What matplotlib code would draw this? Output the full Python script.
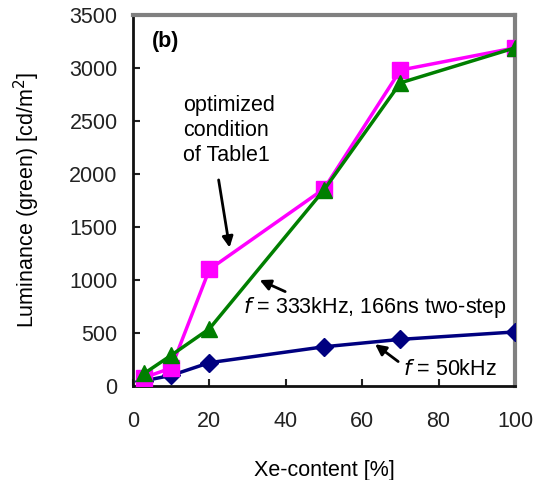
import matplotlib.pyplot as plt

plt.rcParams['font.family'] = ['Liberation Sans', 'DejaVu Sans']

# Xe-content [%] and luminance values for the three drive conditions
xe = [3, 10, 20, 50, 70, 100]
lum_50khz = [50, 100, 220, 370, 440, 510]
lum_optimized = [80, 170, 1100, 1860, 2980, 3190]
lum_333khz = [120, 290, 540, 1850, 2860, 3190]

FS = 15.5

fig = plt.figure(figsize=(5.41, 4.80), dpi=100)
ax = fig.add_axes([133 / 541, 94 / 480, 382 / 541, 371 / 480])

ax.plot(xe, lum_50khz, color='#000080', lw=2.5, marker='D', ms=9, zorder=3)
ax.plot(xe, lum_optimized, color='#ff00ff', lw=2.5, marker='s', ms=11, zorder=4)
ax.plot(xe, lum_333khz, color='#007f00', lw=2.5, marker='^', ms=11, zorder=5)

ax.set_xlim(0, 100)
ax.set_ylim(0, 3500)
ax.set_xticks(range(0, 101, 20))
ax.set_yticks(range(0, 3501, 500))
ax.tick_params(direction='in', length=5, width=1.5, labelsize=FS,
               colors='#222222')
ax.tick_params(axis='y', pad=11)
ax.tick_params(axis='x', pad=18)

for side in ['left', 'bottom']:
    ax.spines[side].set_linewidth(2)
    ax.spines[side].set_color('#111111')
for side in ['top', 'right']:
    ax.spines[side].set_linewidth(3)
    ax.spines[side].set_color('#808080')

ax.set_xlabel('Xe-content [%]', fontsize=FS, labelpad=20)
ax.set_ylabel('Luminance (green) [cd/m$^2$]', fontsize=FS, labelpad=20)

ax.text(5, 3250, '(b)', fontsize=FS, fontweight='bold', va='center')

ax.text(13, 2415, 'optimized\ncondition\nof Table1', fontsize=FS,
        va='center', ha='left', linespacing=1.25)
ax.annotate('', xy=(25.4, 1280), xytext=(22.3, 1970),
            arrowprops=dict(arrowstyle='-|>', color='black', lw=2,
                            mutation_scale=16))

ax.text(28.8, 736, '$f$ = 333kHz, 166ns two-step', fontsize=FS, va='center')
ax.annotate('', xy=(32.5, 1010), xytext=(40.5, 880),
            arrowprops=dict(arrowstyle='-|>', color='black', lw=2,
                            mutation_scale=16))

ax.text(70.7, 151, '$f$ = 50kHz', fontsize=FS, va='center')
ax.annotate('', xy=(62.8, 410), xytext=(70, 215),
            arrowprops=dict(arrowstyle='-|>', color='black', lw=2,
                            mutation_scale=16))

fig.savefig('out.png', dpi=100)
